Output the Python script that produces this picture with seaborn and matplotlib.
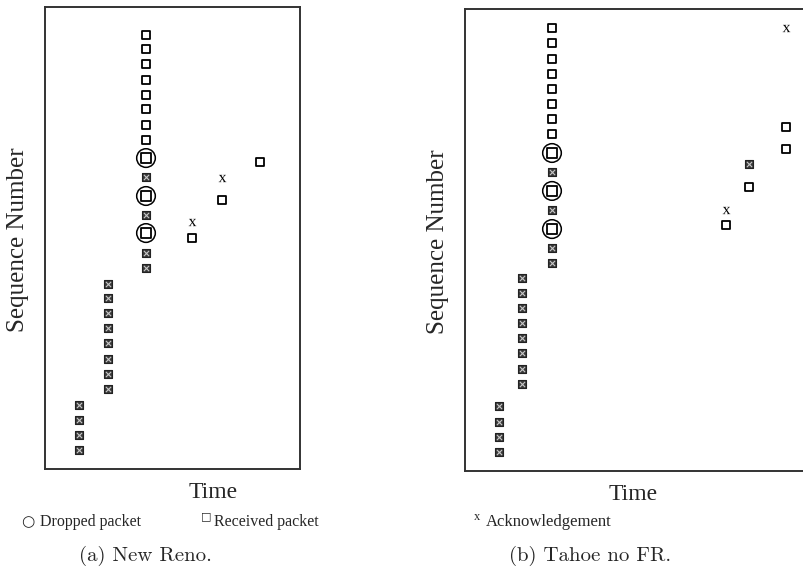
import numpy as np
import matplotlib
matplotlib.use("Agg")
import matplotlib.pyplot as plt
import seaborn as sns

sns.set_style("white")
plt.rcParams["font.family"] = ["Liberation Serif", "DejaVu Serif"]
plt.rcParams["mathtext.fontset"] = "custom"
plt.rcParams["mathtext.rm"] = "Liberation Serif"

# ---- (a) New Reno: time / sequence values ----
reno_acked_t = [3.4] * 4 + [6.3] * 8 + [10.1] * 4
reno_acked_s = [1.27, 2.27, 3.27, 4.27,
                5.33, 6.33, 7.33, 8.4, 9.4, 10.4, 11.4, 12.33,
                13.4, 14.4, 16.93, 19.47]
reno_recv_t = [10.1] * 8 + [14.7, 17.7, 21.5]
reno_recv_s = [21.93, 22.93, 24.0, 24.93, 25.93, 27.0, 28.0, 28.93,
               15.4, 17.93, 20.47]
reno_drop_t = [10.1, 10.1, 10.1]
reno_drop_s = [15.73, 18.2, 20.73]
reno_ack_t = [14.7, 17.7]
reno_ack_s = [16.47, 19.4]

# ---- (b) Tahoe no FR ----
tahoe_acked_t = [3.4] * 4 + [5.7] * 8 + [8.7] * 4 + [28.4]
tahoe_acked_s = [1.27, 2.27, 3.27, 4.33,
                 5.8, 6.8, 7.87, 8.87, 9.87, 10.87, 11.87, 12.87,
                 13.87, 14.87, 17.4, 19.93, 20.47]
tahoe_recv_t = [8.7] * 8 + [26.1, 28.4, 32.1, 32.1]
tahoe_recv_s = [22.47, 23.47, 24.47, 25.47, 26.47, 27.47, 28.53, 29.53,
                16.4, 18.93, 21.47, 22.93]
tahoe_drop_t = [8.7, 8.7, 8.7]
tahoe_drop_s = [16.13, 18.67, 21.2]
tahoe_ack_t = [26.1, 32.1]
tahoe_ack_s = [17.4, 29.53]

W, H = 804, 585
fig = plt.figure(figsize=(W / 100, H / 100), dpi=100)
ax1 = fig.add_axes([45 / W, (H - 469) / H, 255 / W, 462 / H])
ax2 = fig.add_axes([465 / W, (H - 471) / H, 355 / W, 462 / H])


def draw_panel(ax, acked_t, acked_s, recv_t, recv_s, drop_t, drop_s, ack_t, ack_s, xmax):
    # dropped packets: circle around a square
    sns.scatterplot(x=drop_t, y=drop_s, marker="o", s=180, facecolor="none",
                    edgecolor="black", linewidth=1.1, ax=ax)
    sns.scatterplot(x=drop_t, y=drop_s, marker="s", s=42, facecolor="white",
                    edgecolor="black", linewidth=1.3, ax=ax)
    # received packets
    sns.scatterplot(x=recv_t, y=recv_s, marker="s", s=38, facecolor="white",
                    edgecolor="black", linewidth=1.3, ax=ax)
    # received + acknowledged (hatched boxes)
    sns.scatterplot(x=acked_t, y=acked_s, marker="s", s=36, facecolor="#3a3a3a",
                    edgecolor="#222222", linewidth=0.8, ax=ax)
    sns.scatterplot(x=acked_t, y=acked_s, marker="x", s=14, color="#c8c8c8",
                    linewidth=0.8, ax=ax)
    # acknowledgements
    sns.scatterplot(x=ack_t, y=ack_s, marker=r"$\mathrm{x}$", s=30, color="black",
                    linewidth=0, ax=ax)
    ax.set_xlim(0, xmax)
    ax.set_ylim(0, 30.8)
    ax.set_xticks([])
    ax.set_yticks([])
    ax.set_xlabel("")
    ax.set_ylabel("")
    for sp in ax.spines.values():
        sp.set_color("#333333")
        sp.set_linewidth(1.4)


draw_panel(ax1, reno_acked_t, reno_acked_s, reno_recv_t, reno_recv_s,
           reno_drop_t, reno_drop_s, reno_ack_t, reno_ack_s, 25.5)
draw_panel(ax2, tahoe_acked_t, tahoe_acked_s, tahoe_recv_t, tahoe_recv_s,
           tahoe_drop_t, tahoe_drop_s, tahoe_ack_t, tahoe_ack_s, 35.5)


def fx(px):
    return px / W


def fy(py):
    return 1 - py / H


# axis labels
fig.text(fx(18), fy(240), "Sequence Number", rotation=90, ha="center", va="center", fontsize=18)
fig.text(fx(438), fy(242), "Sequence Number", rotation=90, ha="center", va="center", fontsize=18)
fig.text(fx(213), fy(492), "Time", ha="center", va="center", fontsize=17)
fig.text(fx(633), fy(494), "Time", ha="center", va="center", fontsize=17)

# key
fig.text(fx(21), fy(522), "○", ha="left", va="center", fontsize=11, family="DejaVu Sans")
fig.text(fx(40), fy(522), "Dropped packet", ha="left", va="center", fontsize=11.5)
fig.text(fx(201), fy(516), "□", ha="left", va="center", fontsize=8, family="DejaVu Sans")
fig.text(fx(214), fy(522), "Received packet", ha="left", va="center", fontsize=11.5)
fig.text(fx(474), fy(517), "x", ha="left", va="center", fontsize=9)
fig.text(fx(486), fy(522), "Acknowledgement", ha="left", va="center", fontsize=12)

# captions
fig.text(fx(145), fy(556), "(a) New Reno.", ha="center", va="center", fontsize=15, family="cmr10")
fig.text(fx(590), fy(556), "(b) Tahoe no FR.", ha="center", va="center", fontsize=15, family="cmr10")

fig.savefig("out.png", dpi=100)
